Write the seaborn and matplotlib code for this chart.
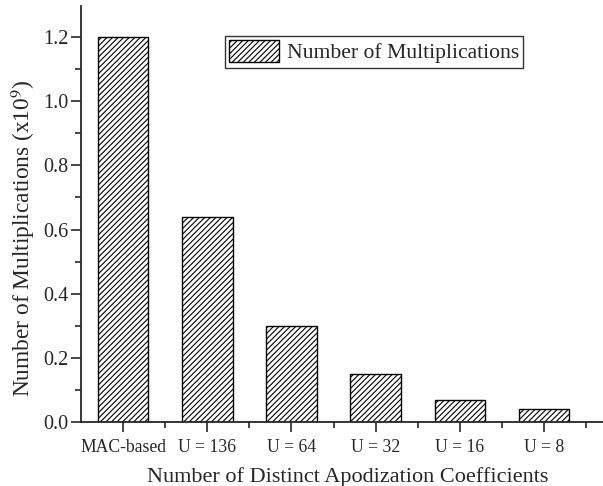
import matplotlib
matplotlib.use("Agg")
import matplotlib.pyplot as plt
from matplotlib.patches import Patch
from matplotlib.ticker import MultipleLocator, FixedLocator
import seaborn as sns
import pandas as pd

categories = ["MAC-based", "U = 136", "U = 64", "U = 32", "U = 16", "U = 8"]
values = [1.20, 0.64, 0.30, 0.15, 0.07, 0.04]
series_name = "Number of Multiplications"

sns.set_style("ticks")
plt.rcParams['font.family'] = ['Liberation Serif', 'DejaVu Serif']
plt.rcParams['hatch.linewidth'] = 0.8
plt.rcParams['mathtext.fontset'] = 'stix'

df = pd.DataFrame({"cat": categories, "val": values})

fig = plt.figure(figsize=(6.03, 4.86), dpi=100)
ax = fig.add_axes([81 / 603, 64 / 486, 522 / 603, 416 / 486])
sns.barplot(data=df, x="cat", y="val", color="white", edgecolor="black",
            linewidth=1.0, width=0.6, ax=ax, saturation=1)
for p in ax.patches:
    p.set_hatch("//////")
    p.set_facecolor("white")
    p.set_edgecolor("black")

ax.set_xlim(-0.5, 5.7)
ax.set_ylim(0, 1.297)
ax.yaxis.set_minor_locator(MultipleLocator(0.1))
ax.xaxis.set_minor_locator(FixedLocator([0.5, 1.5, 2.5, 3.5, 4.5, 5.5]))
ax.set_yticks([0.0, 0.2, 0.4, 0.6, 0.8, 1.0, 1.2])
ax.set_yticklabels(["0.0", "0.2", "0.4", "0.6", "0.8", "1.0", "1.2"])
ax.tick_params(axis='y', which='major', length=7, width=1.2, labelsize=14.5, direction='out', pad=2)
ax.tick_params(axis='y', which='minor', length=4, width=1.2, direction='out')
ax.tick_params(axis='x', which='major', length=7, width=1.2, labelsize=12.7, direction='out', pad=5)
ax.tick_params(axis='x', which='minor', length=4, width=1.2, direction='out')
for s in ["top", "right"]:
    ax.spines[s].set_visible(False)
for s in ["left", "bottom"]:
    ax.spines[s].set_linewidth(1.3)

ax.set_xlabel("Number of Distinct Apodization Coefficients", fontsize=16)
ax.set_ylabel("Number of Multiplications (x10$^9$)", fontsize=16.8)
ax.xaxis.set_label_coords(0.51, -0.108)
ax.yaxis.set_label_coords(-0.084, 0.442)

handle = Patch(facecolor="white", edgecolor="black", hatch="//////", linewidth=1.0)
leg = fig.legend([handle], [series_name], loc="upper left",
                 bbox_to_anchor=(225 / 603, 1 - 36 / 486), fontsize=15.6, frameon=True,
                 fancybox=False, edgecolor="black", handlelength=2.3,
                 handleheight=1.15, borderpad=0.2, handletextpad=0.35,
                 borderaxespad=0)
leg.get_frame().set_linewidth(1.0)

fig.savefig("out.png", dpi=100)
